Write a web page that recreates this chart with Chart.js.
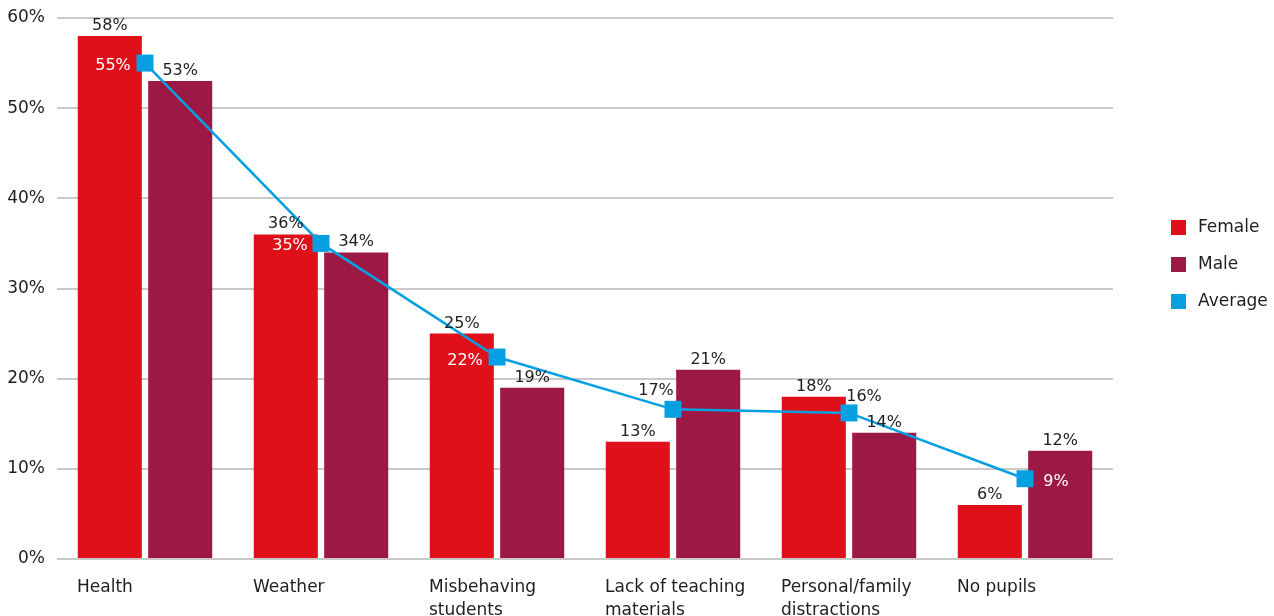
<!DOCTYPE html>
<html><head><meta charset="utf-8">
<script src="https://cdn.jsdelivr.net/npm/chart.js@4.4.1/dist/chart.umd.min.js"></script>
<style>html,body{margin:0;padding:0;overflow:hidden;background:#fff}#wrap{width:1274px;height:640px;position:relative}</style>
</head><body><div id="wrap"><canvas id="c"></canvas></div>
<script>
const categories = [["Health"],["Weather"],["Misbehaving","students"],["Lack of teaching","materials"],["Personal/family","distractions"],["No pupils"]];
const female = [58,36,25,13,18,6];
const male = [53,34,19,21,14,12];
const average = [55,35,22.4,16.6,16.2,8.9];
const yTicks = [0,10,20,30,40,50,60];
const seriesNames = ["Female","Male","Average"];

const FONT = '"DejaVu Sans", sans-serif';
const RED = '#e0101a', MAROON = '#9b1944', BLUE = '#04a0e2', TXT = '#1e1e1e';
const avgPlace = [
  {dx:-32, dy:1, color:'#fff'},
  {dx:-31, dy:1, color:'#fff'},
  {dx:-32, dy:2, color:'#fff'},
  {dx:-17, dy:-20, color:TXT},
  {dx:15, dy:-18, color:TXT},
  {dx:31, dy:1, color:'#fff'}
];

const labelPlugin = {
  id:'valueLabels',
  afterDatasetsDraw(chart){
    const ctx = chart.ctx;
    ctx.save();
    ctx.font = '16px ' + FONT;
    ctx.textAlign = 'center';
    [0,1].forEach(di=>{
      const meta = chart.getDatasetMeta(di);
      const data = chart.data.datasets[di].data;
      meta.data.forEach((el,i)=>{
        ctx.fillStyle = TXT;
        ctx.textBaseline = 'alphabetic';
        ctx.fillText(Math.round(data[i]) + '%', el.x, el.y - 6);
      });
    });
    const meta = chart.getDatasetMeta(2);
    const data = chart.data.datasets[2].data;
    meta.data.forEach((el,i)=>{
      const p = avgPlace[i];
      ctx.fillStyle = p.color;
      ctx.textBaseline = 'alphabetic';
      ctx.fillText(Math.round(data[i]) + '%', el.x + p.dx, el.y + p.dy + 6);
    });
    ctx.restore();
  },
  afterDraw(chart){
    const ctx = chart.ctx, a = chart.chartArea;
    const colors = [RED, MAROON, BLUE];
    const cy0 = (a.top + a.bottom)/2 - 24;
    ctx.save();
    ctx.font = '17px ' + FONT;
    ctx.textBaseline = 'middle';
    ctx.textAlign = 'left';
    seriesNames.forEach((n,i)=>{
      const cy = cy0 + (i-1)*37;
      ctx.fillStyle = colors[i];
      ctx.fillRect(a.right + 58, cy - 7.5, 15, 15);
      ctx.fillStyle = TXT;
      ctx.fillText(n, a.right + 85, cy);
    });
    ctx.restore();
  }
};

new Chart(document.getElementById('c'), {
  data: {
    labels: categories,
    datasets: [
      {type:'bar', label:seriesNames[0], data:female, backgroundColor:RED, borderWidth:0, order:1, categoryPercentage:0.8, barPercentage:0.91},
      {type:'bar', label:seriesNames[1], data:male, backgroundColor:MAROON, borderWidth:0, order:1, categoryPercentage:0.8, barPercentage:0.91},
      {type:'line', label:seriesNames[2], data:average, borderColor:BLUE, backgroundColor:BLUE, borderWidth:2.5,
        pointStyle:'rect', pointRadius:12, pointHoverRadius:12, pointBorderWidth:0, order:0, tension:0}
    ]
  },
  options: {
    responsive:true, maintainAspectRatio:false, animation:false,
    layout:{padding:{top:18, right:161, bottom:0, left:0}},
    plugins:{legend:{display:false}, tooltip:{enabled:false}},
    scales:{
      x:{
        grid:{display:false}, border:{display:false},
        ticks:{align:'start', labelOffset:-68, padding:10, color:TXT, font:{family:FONT, size:17, lineHeight:1.3}, maxRotation:0, autoSkip:false},
        afterFit(s){ s.height = 81; }
      },
      y:{
        min:0, max:60,
        grid:{color:'#c9c9c9', lineWidth:2, drawTicks:false}, border:{display:false},
        ticks:{padding:12, color:TXT, font:{family:FONT, size:17, lineHeight:1}, callback:v=>v+'%'},
        afterBuildTicks(s){ s.ticks = yTicks.map(v=>({value:v})); },
        afterFit(s){ s.width = 57; s.paddingTop = 0; s.paddingBottom = 0; }
      }
    }
  },
  plugins:[labelPlugin]
});
</script></body></html>
